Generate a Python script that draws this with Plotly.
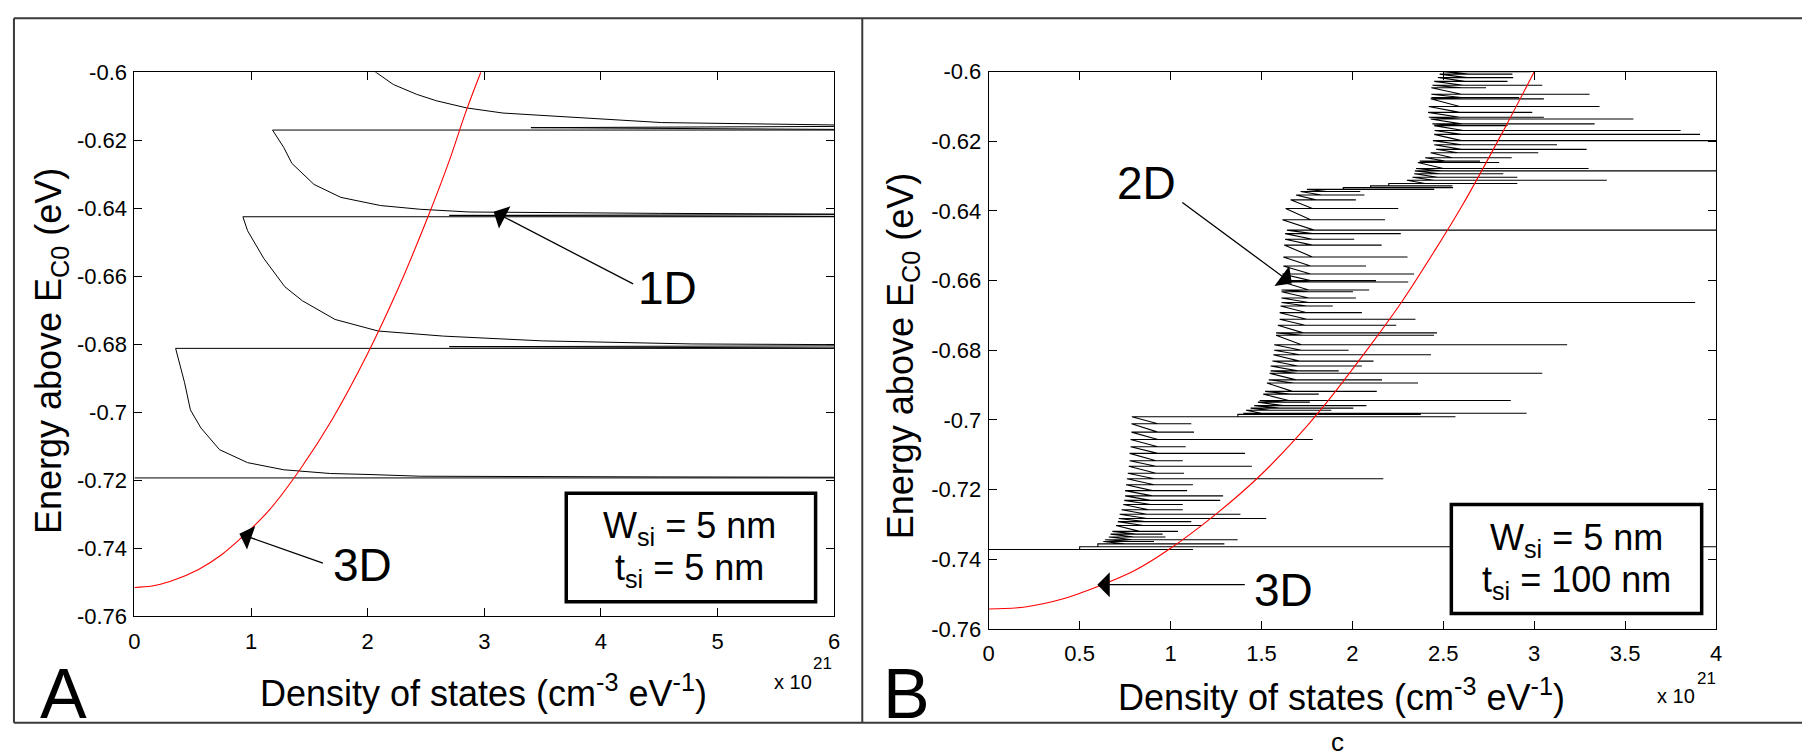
import plotly.graph_objects as go

W, H = 1808, 756
FONT = "Liberation Sans, Arial, Helvetica, sans-serif"

# ---------------- Panel A : W = 5 nm, t = 5 nm (quantum wire) ----------------
# bulk (3D) density of states
bulk_a_dos = [0.00, 0.15, 0.31, 0.55, 0.75, 0.92, 1.15, 1.43, 1.70, 2.00, 2.25, 2.51, 2.70, 2.84, 2.97]
bulk_a_e = [-0.7515, -0.7511, -0.7497, -0.7462, -0.7418, -0.7368, -0.7290, -0.7163, -0.7018,
            -0.6827, -0.6645, -0.6431, -0.6260, -0.6118, -0.6000]

# 1D wire density of states, traced in order of rising energy
wire_dos = [0.00, 7.00, 7.00, 6.00, 4.50, 3.30, 2.45, 2.02, 1.68, 1.28, 0.97, 0.73, 0.57, 0.48, 0.43, 0.353,
            7.00, 2.70, 7.00, 6.00, 4.78, 3.50, 2.65, 2.09, 1.72, 1.44, 1.29, 1.11, 0.97, 0.93,
            7.00, 2.70, 7.00, 6.00, 4.50, 2.87, 2.45, 2.11, 1.77, 1.54, 1.35, 1.28, 1.184,
            7.00, 3.40, 7.00, 6.00, 4.52, 3.40, 3.16, 2.85, 2.59, 2.42, 2.22, 2.07, 1.95]
wire_e = [-0.7193, -0.7193, -0.7192, -0.7191, -0.7190, -0.7189, -0.7188, -0.7183, -0.7180, -0.7169,
          -0.7148, -0.7110, -0.7046, -0.6993, -0.6913, -0.6812,
          -0.6812, -0.6807, -0.6804, -0.6801, -0.6799, -0.6790, -0.6776, -0.6761, -0.6727, -0.6672,
          -0.6631, -0.6548, -0.6466, -0.6425,
          -0.6425, -0.6421, -0.6418, -0.6417, -0.6415, -0.6411, -0.6403, -0.6392, -0.6368, -0.6330,
          -0.6268, -0.6221, -0.6170,
          -0.6170, -0.6163, -0.6158, -0.6155, -0.6148, -0.6125, -0.6120, -0.6105, -0.6084, -0.6065,
          -0.6036, -0.6000, -0.5970]

# ---------------- Panel B : W = 5 nm, t = 100 nm (quasi-2D slab) ----------------
bulk_b_dos = [0.00, 0.20, 0.40, 0.60, 0.80, 0.99, 1.26, 1.48, 1.68, 1.84, 2.11, 2.27, 2.45, 2.60, 2.83, 3.00]
bulk_b_e = [-0.7543, -0.7537, -0.7515, -0.7478, -0.7433, -0.7372, -0.7266, -0.7166, -0.7059,
            -0.6962, -0.6778, -0.6662, -0.6516, -0.6388, -0.6170, -0.6000]

# subband onsets: energy, spike peak, DOS just before the onset, DOS just after the spike
lower_e = [-0.7372, -0.7364, -0.7356, -0.7349, -0.7344, -0.7336, -0.7328, -0.7320, -0.7303, -0.7292,
           -0.7283, -0.7271, -0.7258, -0.7243, -0.7231, -0.7218, -0.7203, -0.7186, -0.7169, -0.7153,
           -0.7133, -0.7117, -0.7096, -0.7077, -0.7056, -0.7035, -0.7011]
lower_peak = [1.124, 4.30, 1.296, 0.909, 1.369, 0.972, 0.956, 1.041, 1.169, 1.114, 1.526, 1.384, 1.067,
              1.067, 1.273, 1.289, 1.091, 1.123, 2.170, 1.074, 1.447, 1.067, 1.409, 1.083, 1.782, 1.129, 1.114]
lower_base = [0.00, 0.50, 0.60, 0.63, 0.64, 0.66, 0.67, 0.68, 0.70, 0.71, 0.715, 0.72, 0.73, 0.74, 0.745,
              0.75, 0.75, 0.755, 0.76, 0.765, 0.77, 0.775, 0.775, 0.78, 0.78, 0.785, 0.785]
lower_ret = [0.50, 0.60, 0.75, 0.78, 0.79, 0.80, 0.81, 0.83, 0.85, 0.86, 0.87, 0.87, 0.88, 0.89, 0.89,
             0.90, 0.90, 0.91, 0.91, 0.92, 0.92, 0.92, 0.93, 0.93, 0.93, 0.93, 0.93]

middle_e = [-0.6991, -0.6984, -0.6981, -0.6972, -0.6966, -0.6959, -0.6949, -0.6944, -0.6926, -0.6918,
            -0.6894, -0.6885, -0.6866, -0.6859, -0.6845, -0.6831, -0.6813, -0.6800, -0.6784, -0.6757,
            -0.6750, -0.6728, -0.6711, -0.6692, -0.6673, -0.6663, -0.6650, -0.6632, -0.6627, -0.6604,
            -0.6600, -0.6581, -0.6558, -0.6532, -0.6498, -0.6481, -0.6465, -0.6455, -0.6425, -0.6393,
            -0.6368, -0.6354, -0.6344]
middle_peak = [2.567, 2.376, 2.958, 1.884, 2.005, 2.077, 1.766, 2.871, 1.815, 2.134, 2.361, 2.163, 3.044,
               1.925, 2.052, 2.116, 2.432, 1.979, 3.181, 2.449, 2.465, 2.241, 2.347, 2.052, 1.892, 3.885,
               2.019, 2.003, 2.092, 2.307, 2.130, 2.339, 2.075, 2.303, 2.161, 2.010, 2.266, 4.30, 2.179,
               2.252, 2.019, 2.066, 2.043]
middle_base = [0.787, 1.37, 1.40, 1.415, 1.44, 1.46, 1.48, 1.49, 1.51, 1.52, 1.53, 1.54, 1.545, 1.55,
               1.55, 1.56, 1.565, 1.57, 1.57, 1.58, 1.58, 1.59, 1.60, 1.60, 1.605, 1.61, 1.61, 1.61,
               1.61, 1.615, 1.615, 1.615, 1.62, 1.62, 1.625, 1.63, 1.63, 1.64, 1.615, 1.633, 1.66, 1.69, 1.715]
middle_ret = [1.37, 1.45, 1.50, 1.55, 1.60, 1.62, 1.63, 1.65, 1.66, 1.67, 1.68, 1.69, 1.70, 1.70, 1.70,
              1.71, 1.71, 1.72, 1.72, 1.73, 1.73, 1.74, 1.75, 1.75, 1.75, 1.76, 1.76, 1.76, 1.76, 1.77,
              1.77, 1.77, 1.77, 1.78, 1.78, 1.78, 1.78, 1.79, 1.77, 1.78, 1.80, 1.83, 1.86]

upper_e = [-0.6338, -0.6333, -0.6328, -0.6321, -0.6312, -0.6303, -0.6293, -0.6285, -0.6278, -0.6261,
           -0.6257, -0.6247, -0.6233, -0.6223, -0.6210, -0.6198, -0.6180, -0.6169, -0.6155, -0.6150,
           -0.6136, -0.6131, -0.6117, -0.6100, -0.6078, -0.6074, -0.6065, -0.6046, -0.6039, -0.6028,
           -0.6017, -0.6007, -0.6000]
upper_peak = [2.45, 2.553, 2.55, 2.907, 3.399, 2.907, 2.830, 4.30, 3.299, 2.807, 2.702, 2.876, 3.022,
              3.288, 3.125, 4.30, 3.912, 3.805, 2.853, 3.332, 3.545, 3.053, 2.989, 3.359, 3.053, 2.917,
              3.304, 2.735, 3.044, 2.853, 2.884, 2.880, 2.980]
upper_base = [1.75, 1.95, 2.10, 2.20, 2.30, 2.33, 2.34, 2.343, 2.35, 2.36, 2.37, 2.40, 2.43, 2.46, 2.45,
              2.443, 2.45, 2.452, 2.45, 2.44, 2.43, 2.42, 2.416, 2.42, 2.43, 2.434, 2.434, 2.434, 2.44,
              2.45, 2.47, 2.48, 2.50]
upper_ret = [1.95, 2.10, 2.20, 2.40, 2.45, 2.47, 2.48, 2.49, 2.50, 2.51, 2.52, 2.55, 2.58, 2.60, 2.60,
             2.60, 2.60, 2.61, 2.61, 2.60, 2.60, 2.59, 2.59, 2.59, 2.60, 2.60, 2.60, 2.60, 2.61, 2.62,
             2.63, 2.64, 2.65]

y_ticks = [-0.76, -0.74, -0.72, -0.70, -0.68, -0.66, -0.64, -0.62, -0.60]
y_labels = ["-0.76", "-0.74", "-0.72", "-0.7", "-0.68", "-0.66", "-0.64", "-0.62", "-0.6"]
xa_ticks = [0, 1, 2, 3, 4, 5, 6]
xa_labels = ["0", "1", "2", "3", "4", "5", "6"]
xb_ticks = [0, 0.5, 1, 1.5, 2, 2.5, 3, 3.5, 4]
xb_labels = ["0", "0.5", "1", "1.5", "2", "2.5", "3", "3.5", "4"]


def spike_path(e, peak, base, ret):
    """Sawtooth path: jump at each onset, spike out, fall back, decay to next onset."""
    xs, ys = [], []
    for ei, pk, b, r in zip(e, peak, base, ret):
        xs += [b, pk, r]
        ys += [ei, ei, ei]
    return xs, ys


slab_x, slab_y = [], []
for grp in [(lower_e, lower_peak, lower_base, lower_ret),
            (middle_e, middle_peak, middle_base, middle_ret),
            (upper_e, upper_peak, upper_base, upper_ret)]:
    gx, gy = spike_path(*grp)
    slab_x += gx
    slab_y += gy


def fx(p):
    return p / W


def fy(p):
    return 1 - p / H


fig = go.Figure()

fig.add_trace(go.Scatter(x=wire_dos, y=wire_e, mode="lines", xaxis="x", yaxis="y",
                         line=dict(color="black", width=1), hoverinfo="skip"))
fig.add_trace(go.Scatter(x=bulk_a_dos, y=bulk_a_e, mode="lines", xaxis="x", yaxis="y",
                         line=dict(color="#ff0000", width=1.1, shape="spline"), hoverinfo="skip"))
fig.add_trace(go.Scatter(x=slab_x, y=slab_y, mode="lines", xaxis="x2", yaxis="y2",
                         line=dict(color="black", width=1.1), hoverinfo="skip"))
fig.add_trace(go.Scatter(x=bulk_b_dos, y=bulk_b_e, mode="lines", xaxis="x2", yaxis="y2",
                         line=dict(color="#ff0000", width=1.1, shape="spline"), hoverinfo="skip"))

axis_style = dict(showline=True, linecolor="black", linewidth=1, mirror="ticks", ticks="inside",
                  ticklen=8, tickwidth=1, tickcolor="black", showgrid=False, zeroline=False,
                  tickfont=dict(family=FONT, size=22, color="black"), tickmode="array")

fig.update_layout(
    width=W, height=H, margin=dict(l=0, r=0, t=0, b=0),
    paper_bgcolor="white", plot_bgcolor="white", showlegend=False,
    xaxis=dict(domain=[fx(129.3), fx(833.7)], range=[0, 6], tickvals=xa_ticks, ticktext=xa_labels,
               anchor="y", ticklabelstandoff=5, **axis_style),
    yaxis=dict(domain=[fy(625), fy(62.3)], range=[-0.76, -0.6], tickvals=y_ticks, ticktext=y_labels,
               anchor="x", ticklabelstandoff=2, **axis_style),
    xaxis2=dict(domain=[fx(989.3), fx(1721.5)], range=[0, 4], tickvals=xb_ticks, ticktext=xb_labels,
                anchor="y2", ticklabelstandoff=5, **axis_style),
    yaxis2=dict(domain=[fy(638), fy(61.7)], range=[-0.76, -0.6], tickvals=y_ticks, ticktext=y_labels,
                anchor="x2", ticklabelstandoff=2, **axis_style),
)

ann = []


def text(x, y, s, size, **kw):
    d = dict(x=fx(x), y=fy(y), xref="paper", yref="paper", text=s, showarrow=False,
             font=dict(family=FONT, size=size, color="black"), xanchor="center", yanchor="middle")
    d.update(kw)
    ann.append(d)


def arrow(x, y, xr, yr, ax, ay):
    ann.append(dict(x=x, y=y, xref=xr, yref=yr, ax=ax, ay=ay, axref="pixel", ayref="pixel",
                    text="", showarrow=True, arrowhead=1, arrowsize=3.2, arrowwidth=1.3,
                    arrowcolor="black", standoff=0))


# axis titles
text(46, 351, "Energy above E<sub>C0</sub> (eV)", 36, textangle=-90)
text(903, 356, "Energy above E<sub>C0</sub> (eV)", 36, textangle=-90)
text(481, 702, "Density of states (cm<sup>-3</sup> eV<sup>-1</sup>)", 36)
text(1344, 706, "Density of states (cm<sup>-3</sup> eV<sup>-1</sup>)", 36)
# exponent labels
text(792, 693, "x 10", 20)
text(822, 674, "21", 17)
text(1681, 707, "x 10", 20)
text(1712, 689, "21", 17)
# panel letters
text(58, 705, "A", 70)
text(907, 705, "B", 70)
text(1340, 755, "c", 26)
# curve labels
text(666, 285, "1D", 46)
text(359, 572, "3D", 46)
text(1148, 177, "2D", 46)
text(1286, 598, "3D", 46)
arrow(3.08, -0.641, "x", "y", 141, 73)
arrow(0.90, -0.7357, "x", "y", 85, 30)
arrow(1.667, -0.6608, "x2", "y2", -111, -82)
arrow(0.597, -0.7473, "x2", "y2", 149, 0)
# parameter boxes
text(688.5, 534, "W<sub>si</sub> = 5 nm", 36)
text(688.5, 577, "t<sub>si</sub> = 5 nm", 36)
text(1580.6, 546, "W<sub>si</sub> = 5 nm", 36)
text(1580.6, 589, "t<sub>si</sub> = 100 nm", 36)

shapes = [
    dict(type="rect", xref="paper", yref="paper", x0=fx(564), x1=fx(815), y0=fy(610), y1=fy(497.6),
         line=dict(color="black", width=3.5), fillcolor="white", layer="above"),
    dict(type="rect", xref="paper", yref="paper", x0=fx(1455), x1=fx(1707), y0=fy(622), y1=fy(509.4),
         line=dict(color="black", width=3.5), fillcolor="white", layer="above"),
]
frame = dict(color="#3a3a3a", width=2)
for x0, y0, x1, y1 in [(8, 6.5, 1808, 6.5), (8, 735, 1808, 735), (8, 6.5, 8, 735), (862, 6.5, 862, 735)]:
    shapes.append(dict(type="line", xref="paper", yref="paper", x0=fx(x0), y0=fy(y0), x1=fx(x1), y1=fy(y1),
                       line=frame))

fig.update_layout(annotations=ann, shapes=shapes)
fig.write_html("out.html")
